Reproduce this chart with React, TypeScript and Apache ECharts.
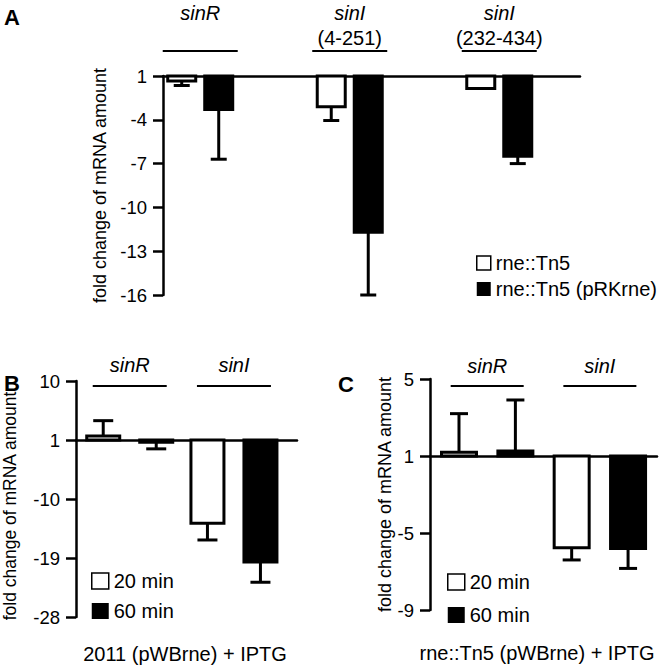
import React, { useEffect, useRef } from "react";
import * as echarts from "echarts";

// ---------- data ----------
// Panel A
const genesA = ["sinR", "sinI", "sinI"];
const rangesA = ["", "(4-251)", "(232-434)"];
const rneTn5 = [-1.35, -3.1, -1.85];
const rneTn5Err = [0.3, 0.95, 0];
const rneTn5pRK = [-3.3, -11.7, -6.5];
const rneTn5pRKErr = [3.4, 4.3, 0.5];
const ticksA = [1, -4, -7, -10, -13, -16];

// Panel B: 2011 (pWBrne) + IPTG
const genesBC = ["sinR", "sinI"];
const b20 = [1.6, -13.7];
const b20Err = [2.35, 2.55];
const b60 = [-1.35, -19.6];
const b60Err = [1.0, 3.1];
const ticksB = [10, 1, -10, -19, -28];

// Panel C: rne::Tn5 (pWBrne) + IPTG
const c20 = [1.2, -5.76];
const c20Err = [2.0, 0.64];
const c60 = [1.26, -5.8];
const c60Err = [2.65, 1.04];
const ticksC = [5, 1, -5, -9];

// fold change axis: values between -1 and 1 don't exist, 1 and -1 coincide
const toAxis = (v: number) => (v >= 0 ? v - 1 : v + 1);
const fromAxis = (t: number) => (t >= 0 ? t + 1 : t - 1);

const FONT = "'Liberation Sans', Arial, Helvetica, sans-serif";

function mkData(vals: number[], errs: number[]) {
  return vals.map((v, i) => {
    const s = v < 0 ? -1 : 1;
    return [i + 1, toAxis(v), toAxis(v + s * errs[i])];
  });
}

function barRender(offset: number, barW: number, fill: string, capW: number) {
  return (params: any, api: any) => {
    const g = api.value(0);
    const v = api.value(1);
    const e = api.value(2);
    const base = api.coord([g, 0]);
    const top = api.coord([g, v]);
    const cx = base[0] + offset;
    const y0 = Math.min(base[1], top[1]);
    const h = Math.abs(top[1] - base[1]);
    const children: any[] = [];
    if (Math.abs(e - v) > 1e-6) {
      const end = api.coord([g, e]);
      children.push({
        type: "line",
        shape: { x1: cx, y1: top[1], x2: cx, y2: end[1] },
        style: { stroke: "#000", lineWidth: 3 },
      });
      children.push({
        type: "line",
        shape: { x1: cx - capW / 2, y1: end[1], x2: cx + capW / 2, y2: end[1] },
        style: { stroke: "#000", lineWidth: 3 },
      });
    }
    children.push({
      type: "rect",
      shape: { x: cx - barW / 2, y: y0, width: barW, height: h },
      style: { fill, stroke: "#000", lineWidth: 3 },
    });
    return { type: "group", children };
  };
}

function labelRender(
  yTop: number,
  line1: string[],
  line2: string[],
  y1: number,
  y2: number,
  yLine: number,
  lineW: number
) {
  return (params: any, api: any) => {
    const i = params.dataIndex;
    const g = api.value(0);
    const p = api.coord([g, yTop]);
    const children: any[] = [];
    children.push({
      type: "text",
      x: p[0],
      y: p[1] + y1,
      style: {
        text: line1[i],
        fontSize: 20,
        fontStyle: "italic",
        fontFamily: FONT,
        fill: "#000",
        textAlign: "center",
        textVerticalAlign: "middle",
        align: "center",
        verticalAlign: "middle",
      },
    });
    if (line2[i]) {
      children.push({
        type: "text",
        x: p[0],
        y: p[1] + y2,
        style: {
          text: line2[i],
          fontSize: 20,
          fontFamily: FONT,
          fill: "#000",
          textAlign: "center",
          textVerticalAlign: "middle",
          align: "center",
          verticalAlign: "middle",
        },
      });
    }
    children.push({
      type: "line",
      shape: { x1: p[0] - lineW / 2, y1: p[1] + yLine, x2: p[0] + lineW / 2, y2: p[1] + yLine },
      style: { stroke: "#000", lineWidth: 2 },
    });
    return { type: "group", children };
  };
}

const axisCommon = {
  axisLine: { show: true, onZero: false, lineStyle: { color: "#000", width: 2.5 } },
  axisTick: { show: true, length: 10, lineStyle: { color: "#000", width: 2.5 } },
  axisLabel: {
    color: "#000",
    fontSize: 18.5,
    fontFamily: FONT,
    margin: 16,
    formatter: (v: number) => String(fromAxis(v)),
  },
  splitLine: { show: false },
  name: "fold change of mRNA amount",
  nameLocation: "middle" as const,
  nameTextStyle: { color: "#000", fontSize: 18, fontFamily: FONT },
};

const xCommon = {
  type: "value" as const,
  axisLine: { show: true, onZero: true, lineStyle: { color: "#000", width: 2.5 } },
  axisTick: { show: false },
  axisLabel: { show: false },
  splitLine: { show: false },
};

const legendText = { color: "#000", fontSize: 20, fontFamily: FONT };

export default function App() {
  const ref = useRef<HTMLDivElement>(null);
  useEffect(() => {
    if (!ref.current) return;
    const chart = echarts.init(ref.current, undefined, { renderer: "svg" });
    const option: any = {
      animation: false,
      backgroundColor: "#fff",
      grid: [
        { left: 163, top: 76, width: 417, height: 219 },
        { left: 72, top: 381, width: 225, height: 236 },
        { left: 430, top: 379, width: 227, height: 231 },
      ],
      xAxis: [
        { ...xCommon, gridIndex: 0, min: 0.751, max: 3.54 },
        { ...xCommon, gridIndex: 1, min: 0.4845, max: 2.605 },
        { ...xCommon, gridIndex: 2, min: 0.4925, max: 2.507 },
      ],
      yAxis: [
        {
          ...axisCommon,
          type: "value",
          gridIndex: 0,
          min: toAxis(ticksA[ticksA.length - 1]),
          max: toAxis(ticksA[0]),
          interval: 3,
          nameGap: 38,
        },
        {
          ...axisCommon,
          type: "value",
          gridIndex: 1,
          min: toAxis(ticksB[ticksB.length - 1]),
          max: toAxis(ticksB[0]),
          interval: 9,
          nameGap: 57,
          nameTextStyle: { ...axisCommon.nameTextStyle, fontSize: 17.5, padding: [0, 14, 0, 0] },
        },
        {
          ...axisCommon,
          type: "value",
          gridIndex: 2,
          min: toAxis(ticksC[ticksC.length - 1]),
          max: toAxis(ticksC[0]),
          interval: 4,
          nameGap: 33,
        },
      ],
      legend: [
        {
          left: 476,
          top: 253,
          orient: "vertical",
          padding: 0,
          itemWidth: 14,
          itemHeight: 14,
          itemGap: 6,
          selectedMode: false,
          textStyle: legendText,
          data: [
            { name: "rne::Tn5", icon: "rect", itemStyle: { color: "#fff", borderColor: "#000", borderWidth: 1.5 } },
            { name: "rne::Tn5 (pRKrne)", icon: "rect", itemStyle: { color: "#000", borderColor: "#000", borderWidth: 0 } },
          ],
        },
        {
          left: 91,
          top: 571,
          orient: "vertical",
          padding: 0,
          itemWidth: 17,
          itemHeight: 16,
          itemGap: 10,
          selectedMode: false,
          textStyle: legendText,
          data: [
            { name: "20 min", icon: "rect", itemStyle: { color: "#fff", borderColor: "#000", borderWidth: 1.5 } },
            { name: "60 min", icon: "rect", itemStyle: { color: "#000", borderColor: "#000", borderWidth: 0 } },
          ],
        },
        {
          left: 447,
          top: 572,
          orient: "vertical",
          padding: 0,
          itemWidth: 17,
          itemHeight: 16,
          itemGap: 13,
          selectedMode: false,
          textStyle: legendText,
          data: [
            { name: "20 min", icon: "rect", itemStyle: { color: "#fff", borderColor: "#000", borderWidth: 1.5 } },
            { name: "60 min", icon: "rect", itemStyle: { color: "#000", borderColor: "#000", borderWidth: 0 } },
          ],
        },
      ],
      series: [
        // Panel A
        {
          type: "custom",
          name: "rne::Tn5",
          xAxisIndex: 0,
          yAxisIndex: 0,
          itemStyle: { color: "#fff", borderColor: "#000" },
          renderItem: barRender(-18.5, 28, "#fff", 16),
          data: mkData(rneTn5, rneTn5Err),
        },
        {
          type: "custom",
          name: "rne::Tn5 (pRKrne)",
          xAxisIndex: 0,
          yAxisIndex: 0,
          itemStyle: { color: "#000" },
          renderItem: barRender(18.5, 28, "#000", 16),
          data: mkData(rneTn5pRK, rneTn5pRKErr),
        },
        {
          type: "custom",
          xAxisIndex: 0,
          yAxisIndex: 0,
          silent: true,
          renderItem: labelRender(toAxis(ticksA[0]), genesA, rangesA, -63, -38, -25, 75),
          data: genesA.map((_, i) => [i + 1, 0]),
        },
        // Panel B
        {
          type: "custom",
          name: "20 min",
          xAxisIndex: 1,
          yAxisIndex: 1,
          itemStyle: { color: "#fff", borderColor: "#000" },
          renderItem: barRender(-26.5, 33, "#fff", 20),
          data: mkData(b20, b20Err),
        },
        {
          type: "custom",
          name: "60 min",
          xAxisIndex: 1,
          yAxisIndex: 1,
          itemStyle: { color: "#000" },
          renderItem: barRender(26.5, 33, "#000", 20),
          data: mkData(b60, b60Err),
        },
        {
          type: "custom",
          xAxisIndex: 1,
          yAxisIndex: 1,
          silent: true,
          renderItem: labelRender(toAxis(ticksB[0]), genesBC, ["", ""], -16, 0, 5, 74),
          data: genesBC.map((_, i) => [i + 1, 0]),
        },
        // Panel C
        {
          type: "custom",
          name: "20 min",
          xAxisIndex: 2,
          yAxisIndex: 2,
          itemStyle: { color: "#fff", borderColor: "#000" },
          renderItem: barRender(-28.2, 35, "#fff", 18),
          data: mkData(c20, c20Err),
        },
        {
          type: "custom",
          name: "60 min",
          xAxisIndex: 2,
          yAxisIndex: 2,
          itemStyle: { color: "#000" },
          renderItem: barRender(28.2, 35, "#000", 18),
          data: mkData(c60, c60Err),
        },
        {
          type: "custom",
          xAxisIndex: 2,
          yAxisIndex: 2,
          silent: true,
          renderItem: labelRender(toAxis(ticksC[0]), genesBC, ["", ""], -13, 0, 7, 73),
          data: genesBC.map((_, i) => [i + 1, 0]),
        },
      ],
      graphic: [
        { type: "text", left: 4, top: 6, style: { text: "A", fontSize: 22, fontWeight: "bold", fontFamily: FONT, fill: "#000" } },
        { type: "text", left: 4, top: 372, style: { text: "B", fontSize: 22, fontWeight: "bold", fontFamily: FONT, fill: "#000" } },
        { type: "text", left: 338, top: 373, style: { text: "C", fontSize: 22, fontWeight: "bold", fontFamily: FONT, fill: "#000" } },
        {
          type: "text",
          x: 185,
          y: 654,
          style: {
            text: "2011 (pWBrne) + IPTG",
            fontSize: 20,
            fontFamily: FONT,
            fill: "#000",
            textAlign: "center",
            textVerticalAlign: "middle",
            align: "center",
            verticalAlign: "middle",
          },
        },
        {
          type: "text",
          x: 537,
          y: 653,
          style: {
            text: "rne::Tn5 (pWBrne) + IPTG",
            fontSize: 20,
            fontFamily: FONT,
            fill: "#000",
            textAlign: "center",
            textVerticalAlign: "middle",
            align: "center",
            verticalAlign: "middle",
          },
        },
      ],
    };
    chart.setOption(option);
    return () => chart.dispose();
  }, []);
  return (
    <div
      ref={ref}
      style={{ position: "fixed", left: 0, top: 0, width: 666, height: 669, background: "#fff" }}
    />
  );
}
